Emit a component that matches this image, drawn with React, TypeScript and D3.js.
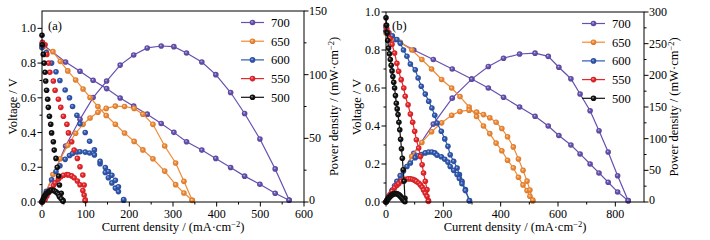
import React from "react";
import * as d3 from "d3";

const temps = ["700", "650", "600", "550", "500"];
const colors = ["#6650B0", "#F28A35", "#2F58B0", "#E8262B", "#111111"];

// Panel (a)
const a700I = [0, 54, 87, 117, 148, 179, 210, 241, 273, 302, 331, 366, 398, 432, 464, 499, 534, 566];
const a700V = [0.91, 0.806, 0.753, 0.701, 0.653, 0.599, 0.552, 0.506, 0.452, 0.401, 0.347, 0.299, 0.251, 0.199, 0.149, 0.102, 0.05, 0.01];
const a700P = [0, 44, 65, 82, 95, 107.5, 115.5, 121, 122.5, 122, 117, 110, 100, 86, 69.5, 49.5, 26, 1.5];

const a650I = [0, 25, 42, 59, 77, 94, 110, 128, 147, 168, 189, 211, 231, 254, 281, 306, 325, 344];
const a650V = [0.89, 0.866, 0.81, 0.755, 0.703, 0.651, 0.602, 0.55, 0.498, 0.448, 0.397, 0.349, 0.3, 0.249, 0.178, 0.1, 0.052, 0.01];
const a650P = [0, 21.5, 34, 44.5, 54, 61, 66, 70.5, 73.5, 75.3, 75, 73.5, 69, 61, 44, 30.6, 16.3, 1.3];

const a600I = [0, 10, 22, 32, 41, 53, 63, 70, 80, 87, 99, 109, 120, 133, 145, 152, 160, 168, 175, 187];
const a600V = [0.89, 0.86, 0.8, 0.75, 0.7, 0.645, 0.6, 0.55, 0.5, 0.45, 0.4, 0.35, 0.3, 0.22, 0.17, 0.14, 0.11, 0.08, 0.06, 0.01];
const a600P = [0, 8.5, 17.5, 24, 28.5, 33.5, 36.5, 38, 39.3, 39.5, 39.2, 38.5, 37, 32, 27, 24, 21, 17, 12, 2];

const a550I = [1, 7, 11, 15, 18, 26, 30, 37.5, 43, 49, 57, 60.5, 68, 73.6, 81, 87, 93.5, 96.5, 99];
const a550V = [0.92, 0.906, 0.85, 0.8, 0.747, 0.697, 0.644, 0.592, 0.545, 0.494, 0.448, 0.398, 0.347, 0.299, 0.251, 0.203, 0.155, 0.098, 0.012];
const a550P = [0, 2, 4.5, 7, 9.5, 13, 15, 18, 19.8, 21, 21.5, 21.3, 20.5, 19, 16.5, 13.5, 9, 5.5, 1];

const a500I = [0, 1, 3, 5, 7, 8.5, 10.5, 13, 14.5, 17, 20, 22, 26, 28, 32, 35, 38, 40, 44, 48];
const a500V = [0.96, 0.906, 0.85, 0.8, 0.747, 0.697, 0.644, 0.592, 0.545, 0.494, 0.448, 0.398, 0.347, 0.299, 0.251, 0.2, 0.15, 0.098, 0.05, 0.01];
const a500P = [0, 0.9, 2.5, 4, 5.2, 6, 6.8, 7.5, 8, 8.5, 9, 9.3, 9.2, 8.7, 8, 7, 5.8, 4.2, 2.5, 0.5];

// Panel (b)
const b700I = [0, 30, 97, 165, 231, 299, 357, 410, 466, 520, 566, 603, 645, 677, 712, 743, 775, 808, 845];
const b700V = [0.92, 0.855, 0.8, 0.75, 0.7, 0.647, 0.6, 0.551, 0.5, 0.451, 0.4, 0.35, 0.3, 0.253, 0.2, 0.153, 0.104, 0.053, 0.007];
const b700P = [0, 25.6, 77, 123, 164, 194, 214, 227, 233.7, 235, 230, 212.7, 194.7, 170.5, 144, 112.6, 79, 41.5, 2];

const b650I = [0, 20, 50, 90, 125, 159, 194, 229, 258, 290, 316, 340, 362, 384, 404, 424, 444, 462, 478, 492, 502, 512];
const b650V = [0.89, 0.86, 0.84, 0.8, 0.75, 0.7, 0.645, 0.6, 0.555, 0.5, 0.45, 0.4, 0.36, 0.31, 0.27, 0.22, 0.18, 0.13, 0.09, 0.06, 0.03, 0.005];
const b650P = [0, 17, 42, 72, 94, 111, 125, 137, 143, 145, 142, 138, 133, 126, 116, 103, 87, 68, 50, 33, 19, 3];

const b600I = [0, 10, 22, 38, 50, 61, 73, 85, 102, 112, 123, 137, 149, 160, 170, 178, 193, 205, 216, 224, 236, 248, 256, 265, 277, 291];
const b600V = [0.9, 0.89, 0.875, 0.855, 0.835, 0.8, 0.767, 0.726, 0.696, 0.653, 0.609, 0.568, 0.53, 0.495, 0.456, 0.416, 0.372, 0.332, 0.293, 0.249, 0.214, 0.179, 0.144, 0.109, 0.065, 0.007];
const b600P = [0, 8.9, 19, 32.5, 41.5, 49, 56, 61.5, 70, 73, 75, 77.5, 79, 79, 77.5, 74, 71.5, 67.5, 63, 56, 50, 43.5, 37, 29, 18, 2];

const b550I = [0, 3, 8, 14, 21, 30, 38, 44, 53, 62, 67, 77, 85, 93, 100, 106, 114, 120, 126, 131, 137, 143, 148];
const b550V = [0.93, 0.91, 0.89, 0.86, 0.83, 0.784, 0.73, 0.688, 0.644, 0.6, 0.556, 0.512, 0.463, 0.42, 0.372, 0.328, 0.284, 0.24, 0.196, 0.153, 0.109, 0.065, 0.007];
const b550P = [0, 2.6, 7, 11.8, 17, 22.5, 26.5, 29, 32.5, 35, 35.8, 36.5, 36.5, 35.8, 34.5, 32.5, 30, 27, 23.5, 19, 14, 9, 1];

const b500I = [0, 2, 4, 6, 9, 12, 15, 18, 21, 24, 27, 30, 33, 36, 39, 42, 45, 48, 51, 54, 57, 60, 63, 66];
const b500V = [0.97, 0.93, 0.89, 0.85, 0.81, 0.78, 0.75, 0.72, 0.69, 0.66, 0.63, 0.6, 0.56, 0.52, 0.49, 0.46, 0.42, 0.38, 0.33, 0.28, 0.23, 0.17, 0.11, 0.02];
const b500P = [0, 1.5, 3, 4.3, 6, 7.6, 9, 10.4, 11.5, 12.4, 13, 13.5, 13.6, 13.4, 13, 12.3, 11.3, 10, 8.6, 7, 5.3, 3.6, 1.8, 0.4];

const aXTicks = [0, 100, 200, 300, 400, 500, 600];
const bXTicks = [0, 200, 400, 600, 800];
const vTicks = [0, 0.2, 0.4, 0.6, 0.8, 1.0];
const aPTicks = [0, 50, 100, 150];
const bPTicks = [0, 50, 100, 150, 200, 250, 300];

const FONT = "'Liberation Serif', 'Times New Roman', serif";

type Series = { name: string; color: string; I: number[]; V: number[]; P: number[]; line: boolean };

const seriesA: Series[] = [
  { name: temps[0], color: colors[0], I: a700I, V: a700V, P: a700P, line: true },
  { name: temps[1], color: colors[1], I: a650I, V: a650V, P: a650P, line: true },
  { name: temps[2], color: colors[2], I: a600I, V: a600V, P: a600P, line: false },
  { name: temps[3], color: colors[3], I: a550I, V: a550V, P: a550P, line: false },
  { name: temps[4], color: colors[4], I: a500I, V: a500V, P: a500P, line: false },
];
const seriesB: Series[] = [
  { name: temps[0], color: colors[0], I: b700I, V: b700V, P: b700P, line: true },
  { name: temps[1], color: colors[1], I: b650I, V: b650V, P: b650P, line: true },
  { name: temps[2], color: colors[2], I: b600I, V: b600V, P: b600P, line: true },
  { name: temps[3], color: colors[3], I: b550I, V: b550V, P: b550P, line: true },
  { name: temps[4], color: colors[4], I: b500I, V: b500V, P: b500P, line: true },
];

type PanelCfg = {
  id: string;
  label: string;
  series: Series[];
  x0: number; x1: number; y0: number; y1: number;
  xMax: number; vMax: number; pMax: number;
  xTicks: number[]; xMinor: number[];
  vMinor: number[];
  pTicks: number[]; pMinor: number[];
  legX: number; legY: number;
};

const R = 2.8;

function Ball({ x, y, id }: { x: number; y: number; id: string }) {
  return <circle cx={x} cy={y} r={R} fill={`url(#${id})`} stroke="none" />;
}

function Panel({ c }: { c: PanelCfg }) {
  const x = d3.scaleLinear().domain([0, c.xMax]).range([c.x0, c.x1]);
  const yv = d3.scaleLinear().domain([0, c.vMax]).range([c.y1, c.y0]);
  const yp = d3.scaleLinear().domain([0, c.pMax]).range([c.y1, c.y0]);
  const fmtV = d3.format(".1f");
  const tk = 4.5, mk = 2.5;
  const midX = (c.x0 + c.x1) / 2;
  const midY = (c.y0 + c.y1) / 2;
  return (
    <g>
      {c.series.map((s, k) => {
        const gid = `${c.id}g${k}`;
        const vLine = d3.line<number>().x((_, i) => x(s.I[i])).y((d) => yv(d));
        const pLine = d3.line<number>().x((_, i) => x(s.I[i])).y((d) => yp(d));
        return (
          <g key={k}>
            {s.line && (
              <>
                <path d={vLine(s.V) || ""} fill="none" stroke={s.color} strokeWidth={1.2} />
                <path d={pLine(s.P) || ""} fill="none" stroke={s.color} strokeWidth={1.2} />
              </>
            )}
            {s.V.map((v, i) => <Ball key={"v" + i} x={x(s.I[i])} y={yv(v)} id={gid} />)}
            {s.P.map((p, i) => <Ball key={"p" + i} x={x(s.I[i])} y={yp(p)} id={gid} />)}
          </g>
        );
      })}
      <rect x={c.x0} y={c.y0} width={c.x1 - c.x0} height={c.y1 - c.y0} fill="none" stroke="#000" strokeWidth={1} />
      {c.xTicks.map((t) => (
        <g key={"xt" + t}>
          <line x1={x(t)} x2={x(t)} y1={c.y1} y2={c.y1 + tk} stroke="#000" />
          <text x={x(t)} y={c.y1 + 16} textAnchor="middle" fontSize={12} fontFamily={FONT}>{t}</text>
        </g>
      ))}
      {c.xMinor.map((t) => (
        <line key={"xm" + t} x1={x(t)} x2={x(t)} y1={c.y1} y2={c.y1 + mk} stroke="#000" />
      ))}
      {vTicks.map((t) => (
        <g key={"vt" + t}>
          <line x1={c.x0 - tk} x2={c.x0} y1={yv(t)} y2={yv(t)} stroke="#000" />
          <text x={c.x0 - 6} y={yv(t) + 4} textAnchor="end" fontSize={12} fontFamily={FONT}>{fmtV(t)}</text>
        </g>
      ))}
      {c.vMinor.map((t) => (
        <line key={"vm" + t} x1={c.x0 - mk} x2={c.x0} y1={yv(t)} y2={yv(t)} stroke="#000" />
      ))}
      {c.pTicks.map((t) => (
        <g key={"pt" + t}>
          <line x1={c.x1} x2={c.x1 + tk} y1={yp(t)} y2={yp(t)} stroke="#000" />
          <text x={c.x1 + 5} y={yp(t) + (t === 0 ? 2 : 4)} textAnchor="start" fontSize={12} fontFamily={FONT}>{t}</text>
        </g>
      ))}
      {c.pMinor.map((t) => (
        <line key={"pm" + t} x1={c.x1} x2={c.x1 + mk} y1={yp(t)} y2={yp(t)} stroke="#000" />
      ))}
      <text x={midX} y={231} textAnchor="middle" fontSize={12.5} fontFamily={FONT}>
        Current density / (mA·cm<tspan dy={-4} fontSize={8.5}>−2</tspan><tspan dy={4}>)</tspan>
      </text>
      <text transform={`translate(${c.x0 - 25},${midY}) rotate(-90)`} textAnchor="middle" fontSize={12.5} fontFamily={FONT}>
        Voltage / V
      </text>
      <text transform={`translate(${c.x1 + 34},${midY}) rotate(-90)`} textAnchor="middle" fontSize={12.5} fontFamily={FONT}>
        Power density / (mW·cm<tspan dy={-4} fontSize={8.5}>−2</tspan><tspan dy={4}>)</tspan>
      </text>
      <text x={c.x0 + 6} y={30} fontSize={12.5} fontFamily={FONT}>{c.label}</text>
      {c.series.map((s, k) => {
        const ly = c.legY + k * 18.7;
        return (
          <g key={"lg" + k}>
            <line x1={c.legX} x2={c.legX + 23} y1={ly} y2={ly} stroke={s.color} strokeWidth={1.2} />
            <Ball x={c.legX + 11.5} y={ly} id={`${c.id}g${k}`} />
            <text x={c.legX + 30} y={ly + 4.3} fontSize={12.5} fontFamily={FONT}>{s.name}</text>
          </g>
        );
      })}
    </g>
  );
}

const panelA: PanelCfg = {
  id: "a", label: "(a)", series: seriesA,
  x0: 42, x1: 304, y0: 11, y1: 202,
  xMax: 600, vMax: 1.1, pMax: 150,
  xTicks: aXTicks, xMinor: [50, 150, 250, 350, 450, 550],
  vMinor: [0.1, 0.3, 0.5, 0.7, 0.9],
  pTicks: aPTicks, pMinor: [25, 75, 125],
  legX: 241, legY: 22.5,
};
const panelB: PanelCfg = {
  id: "b", label: "(b)", series: seriesB,
  x0: 386, x1: 644, y0: 12, y1: 202,
  xMax: 900, vMax: 1.0, pMax: 300,
  xTicks: bXTicks, xMinor: [100, 300, 500, 700],
  vMinor: [0.1, 0.3, 0.5, 0.7, 0.9],
  pTicks: bPTicks, pMinor: [25, 75, 125, 175, 225, 275],
  legX: 582, legY: 23.5,
};

export default function App() {
  const all = [panelA, panelB];
  return (
    <svg width={710} height={240} style={{ position: "absolute", left: 0, top: 0, background: "#fff" }}>
      <defs>
        {all.map((p) =>
          p.series.map((s, k) => (
            <radialGradient key={p.id + k} id={`${p.id}g${k}`} cx="50%" cy="50%" r="50%" fx="38%" fy="35%">
              <stop offset="0%" stopColor={d3.interpolateRgb("#ffffff", s.color)(0.35)} />
              <stop offset="45%" stopColor={s.color} />
              <stop offset="100%" stopColor={d3.color(s.color)!.darker(0.4).formatHex()} />
            </radialGradient>
          ))
        )}
      </defs>
      <rect x={0} y={0} width={710} height={240} fill="#fff" />
      <Panel c={panelA} />
      <Panel c={panelB} />
    </svg>
  );
}
